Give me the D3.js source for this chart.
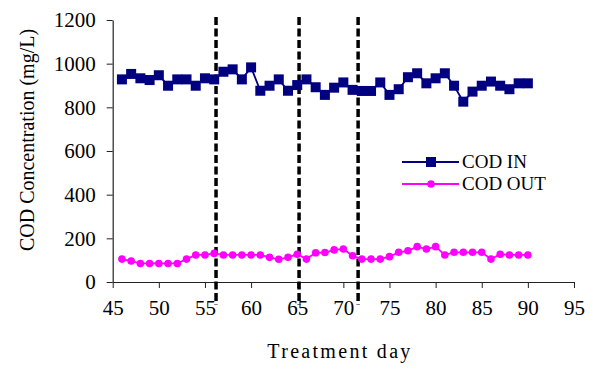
<!DOCTYPE html>
<html>
<head>
<meta charset="utf-8">
<script src="https://cdn.jsdelivr.net/npm/d3@7"></script>
<style>
    body { margin: 0; background: #fff; }
    svg text { font-family: "Liberation Serif", "Times New Roman", serif; fill: #000; }
</style>
</head>
<body>
<svg id="chart" width="593" height="372"></svg>
<script>
(function () {
    'use strict';

    // treatment days 46..90, one sample per day
    const days = d3.range(46, 91);
    const codIn = [928, 953, 933, 925, 947, 899, 928, 928, 899, 933,
                   928, 963, 974, 928, 983, 876, 899, 928, 876, 902,
                   928, 892, 857, 890, 914, 880, 875, 875, 914, 857,
                   883, 938, 956, 910, 933, 956, 899, 826, 872, 899,
                   918, 899, 883, 910, 910];
    const codOut = [105, 96, 85, 85, 85, 85, 85, 105, 124, 124,
                    131, 124, 124, 124, 124, 124, 113, 104, 113, 127,
                    105, 134, 135, 147, 151, 120, 105, 105, 105, 116,
                    136, 143, 162, 151, 162, 124, 136, 136, 136, 136,
                    105, 127, 124, 124, 124];
    const phaseBreaks = [56.2, 65.2, 71.6];
    const xTicks = d3.range(45, 96, 5);
    const yTicks = d3.range(0, 1201, 200);
    const seriesNames = ['COD IN', 'COD OUT'];

    const svg = d3.select('#chart');
    const x = d3.scaleLinear().domain([45, 95]).range([112.7, 574]);
    const y = d3.scaleLinear().domain([0, 1200]).range([282, 20]);

    // axes
    const xAxis = svg.append('g')
        .attr('transform', `translate(0,${y(0)})`)
        .call(d3.axisBottom(x).tickValues(xTicks).tickFormat(d3.format('d'))
            .tickSize(6).tickPadding(12).tickSizeOuter(0));
    const yAxis = svg.append('g')
        .attr('transform', `translate(${x(45)},0)`)
        .call(d3.axisLeft(y).tickValues(yTicks).tickFormat(d3.format('d'))
            .tickSize(6).tickPadding(11).tickSizeOuter(0));
    [xAxis, yAxis].forEach(ax => {
        ax.select('.domain').attr('stroke', '#222').attr('stroke-width', 1.2);
        ax.selectAll('.tick line').attr('stroke', '#222');
        ax.selectAll('.tick text').style('font-size', '21px').attr('fill', '#000')
            .style('font-family', '"Liberation Serif", serif');
    });

    // phase dividers
    svg.append('g').selectAll('line')
        .data(phaseBreaks)
        .enter()
        .append('line')
        .attr('x1', d => x(d)).attr('x2', d => x(d))
        .attr('y1', 17).attr('y2', 305)
        .attr('stroke', '#000')
        .attr('stroke-width', 3.5)
        .attr('stroke-dasharray', '8,3.5');

    const inData = days.map((d, i) => ({ day: d, v: codIn[i] }));
    const outData = days.map((d, i) => ({ day: d, v: codOut[i] }));
    const line = d3.line().x(d => x(d.day)).y(d => y(d.v));

    // COD IN
    svg.append('path').datum(inData)
        .attr('d', line).attr('fill', 'none')
        .attr('stroke', '#000080').attr('stroke-width', 1.8);
    svg.append('g').selectAll('rect')
        .data(inData)
        .enter()
        .append('rect')
        .attr('x', d => x(d.day) - 5).attr('y', d => y(d.v) - 5)
        .attr('width', 10).attr('height', 10)
        .attr('fill', '#000080');

    // COD OUT
    svg.append('path').datum(outData)
        .attr('d', line).attr('fill', 'none')
        .attr('stroke', '#ff00ff').attr('stroke-width', 1.8);
    svg.append('g').selectAll('circle')
        .data(outData)
        .enter()
        .append('circle')
        .attr('cx', d => x(d.day)).attr('cy', d => y(d.v))
        .attr('r', 3.8)
        .attr('fill', '#ff00ff');

    // legend
    const legend = svg.append('g');
    const legendRows = [
        { name: seriesNames[0], color: '#000080', y: 162 },
        { name: seriesNames[1], color: '#ff00ff', y: 184 }
    ];
    legendRows.forEach(row => {
        legend.append('line')
            .attr('x1', 402).attr('x2', 459)
            .attr('y1', row.y).attr('y2', row.y)
            .attr('stroke', row.color).attr('stroke-width', 1.8);
        if (row.color === '#000080') {
            legend.append('rect').attr('x', 426).attr('y', row.y - 5)
                .attr('width', 10).attr('height', 10).attr('fill', row.color);
        } else {
            legend.append('circle').attr('cx', 431).attr('cy', row.y)
                .attr('r', 3.8).attr('fill', row.color);
        }
        legend.append('text')
            .attr('x', 462).attr('y', row.y + 6)
            .style('font-size', '19px')
            .text(row.name);
    });

    // axis titles
    svg.append('text')
        .attr('x', 340).attr('y', 358)
        .attr('text-anchor', 'middle')
        .style('font-size', '20px')
        .style('letter-spacing', '2.3px')
        .text('Treatment day');
    svg.append('text')
        .attr('transform', 'translate(34,140) rotate(-90)')
        .attr('text-anchor', 'middle')
        .style('font-size', '20px')
        .text('COD Concentration (mg/L)');
})();
</script>
</body>
</html>
